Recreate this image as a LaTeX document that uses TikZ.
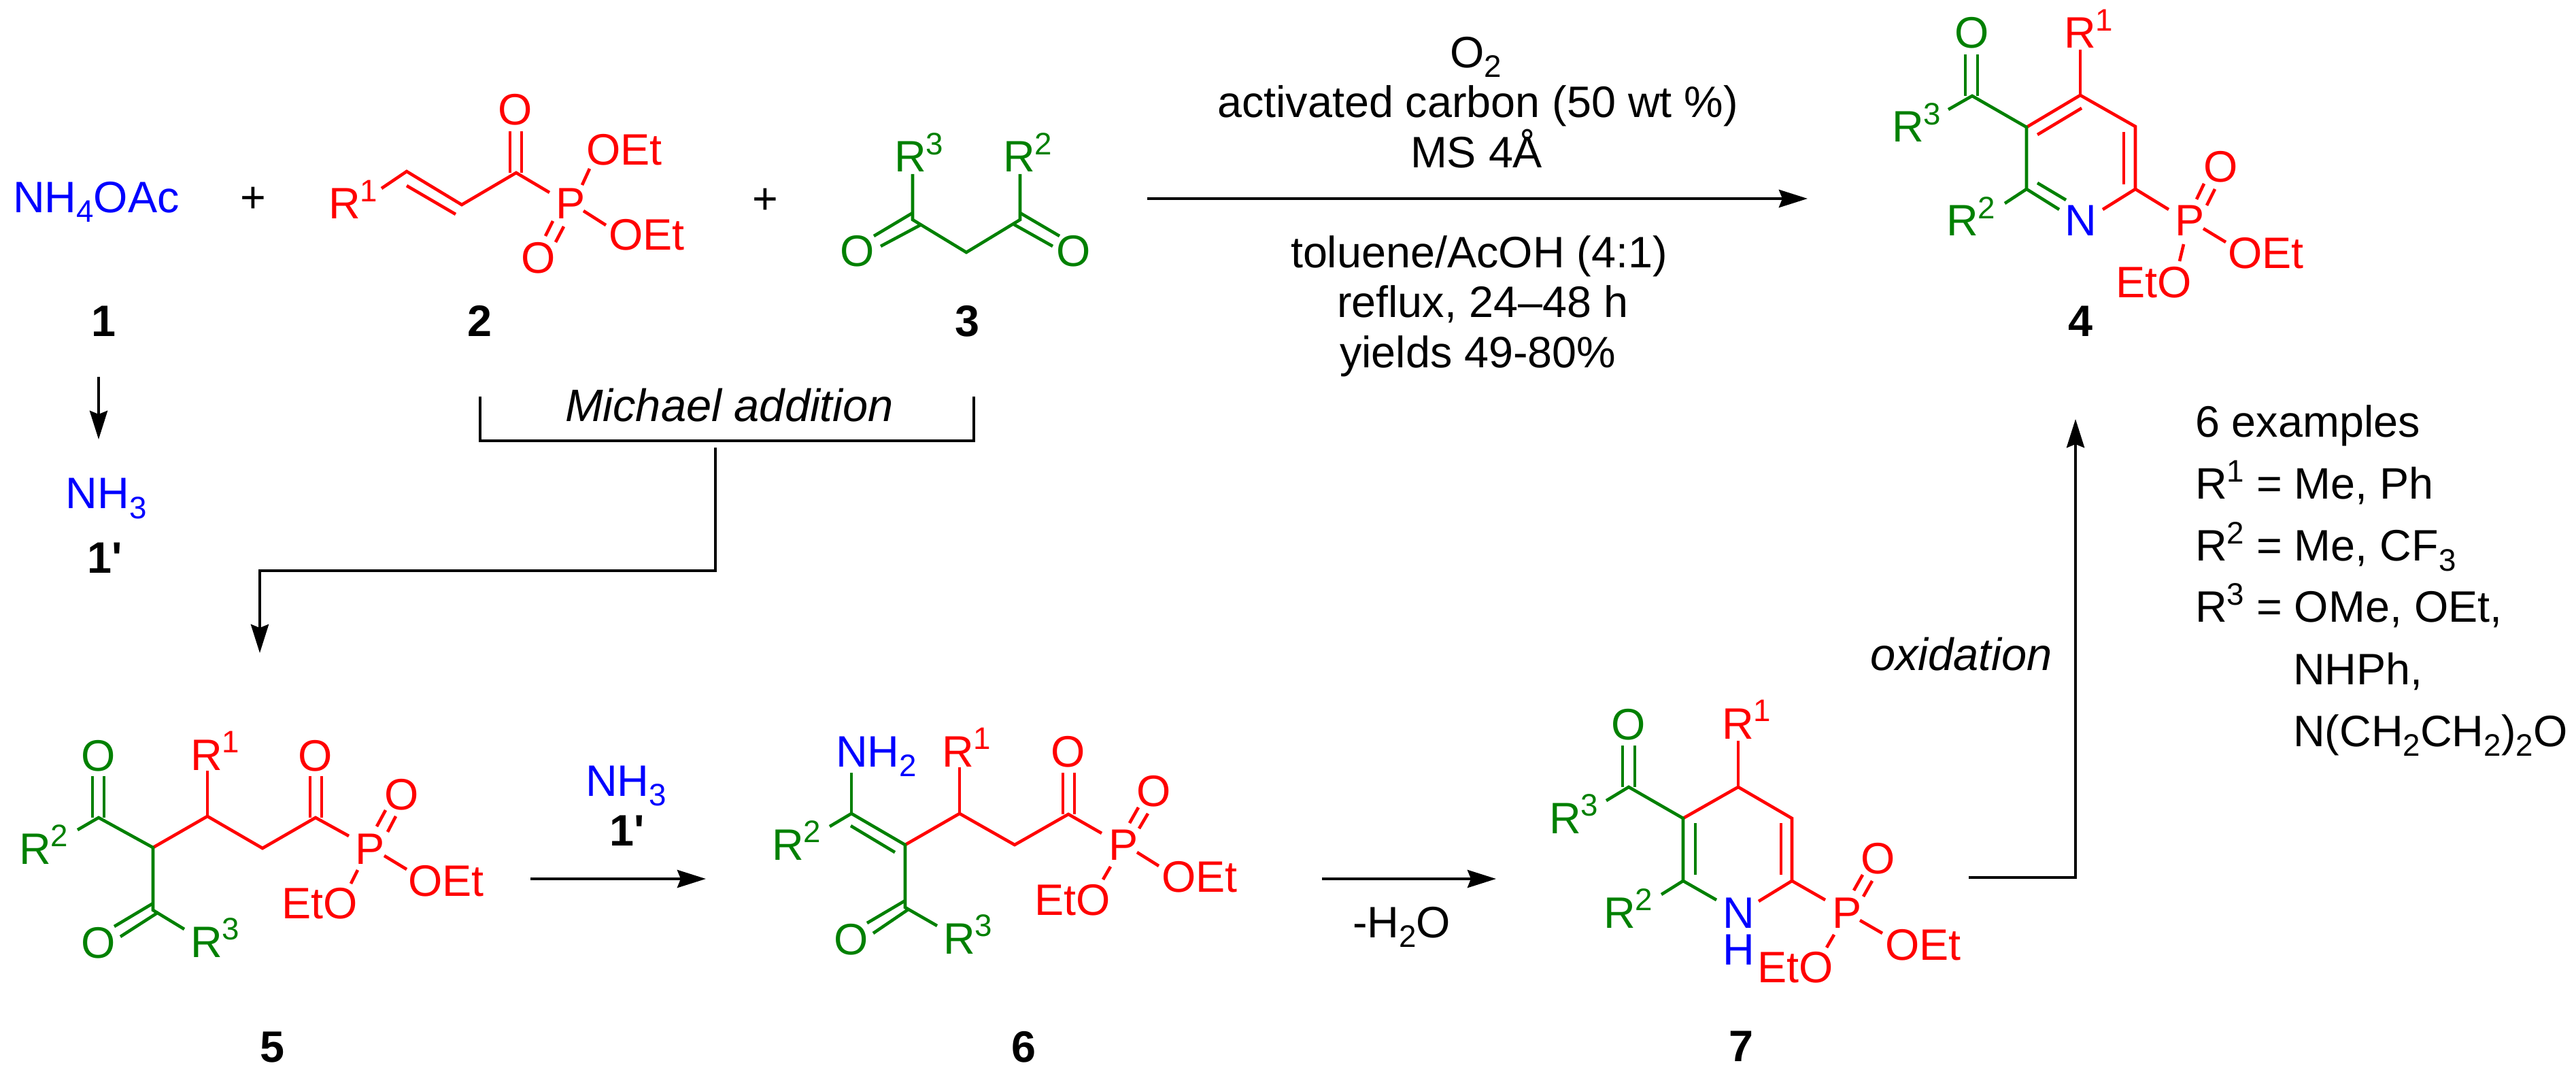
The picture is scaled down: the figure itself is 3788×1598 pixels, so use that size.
\documentclass[tikz,border=0pt]{standalone}
\usepackage{fontspec}
\setmainfont{Liberation Sans}
\usetikzlibrary{arrows.meta}
\definecolor{chemred}{RGB}{255,0,0}
\definecolor{chemgreen}{RGB}{0,128,0}
\definecolor{chemblue}{RGB}{0,0,255}
\newcommand{\supnum}[1]{\raisebox{0.25cm}{\fontsize{13}{13}\selectfont #1}}
\newcommand{\subnum}[1]{\raisebox{-0.14cm}{\fontsize{13}{13}\selectfont #1}}
\tikzset{
	txt/.style={anchor=base west, inner sep=0pt, outer sep=0pt, font=\fontsize{18.4}{20}\selectfont},
	txtred/.style={txt, text=chemred},
	txtgreen/.style={txt, text=chemgreen},
	txtblue/.style={txt, text=chemblue},
	txtital/.style={txt, font=\fontsize{19}{20}\selectfont\itshape},
	cmpd/.style={txt, anchor=base, font=\fontsize{18.4}{20}\selectfont\bfseries},
	bondred/.style={draw=chemred, line width=0.046cm},
	bondgreen/.style={draw=chemgreen, line width=0.046cm},
	plainline/.style={line width=0.046cm},
	rxn/.style={line width=0.046cm, -{Stealth[length=0.42cm,width=0.26cm,inset=0.05cm]}}
}
\begin{document}
\begin{tikzpicture}[x=0.01cm, y=-0.01cm]
	\useasboundingbox (0,0) rectangle (3788,1598);
	% reagents
	\node[txtblue] (nhoac) at (19,313) {NH\subnum{4}OAc};
	\node[cmpd] (lab1) at (152,495) {1};
	\node[txt, anchor=base] (plusa) at (372,313) {+};
	\node[txt, anchor=base] (plusb) at (1125,315) {+};
	% 2
	\node[txtred] (bR) at (483,322) {R\supnum{1}};
	\node[txtred] (bP) at (817,322) {P};
	\node[txtred, anchor=base] (bOa) at (758,184) {O};
	\node[txtred, anchor=base] (bOb) at (792,402) {O};
	\node[txtred] (bOEta) at (862,243) {OEt};
	\node[txtred] (bOEtb) at (895,368) {OEt};
	\node[cmpd] (lab2) at (705,495) {2};
	\coordinate (bR1) at (561,277); \coordinate (b1) at (598,252); \coordinate (b2) at (679,301);
	\coordinate (b3) at (759,254); \coordinate (bP1) at (808,283);
	\coordinate (bd1) at (598,273); \coordinate (bd2) at (670,315);
	\coordinate (bk1) at (750,254); \coordinate (bk2) at (750,193);
	\coordinate (bk3) at (767,254); \coordinate (bk4) at (767,193);
	\coordinate (bq1) at (813,325); \coordinate (bq2) at (802,347);
	\coordinate (bq3) at (829,333); \coordinate (bq4) at (817,356);
	\coordinate (bs1) at (867,248); \coordinate (bs2) at (856,272);
	\coordinate (bs3) at (858,310); \coordinate (bs4) at (891,331);
	\draw[bondred] (bR1) -- (b1) -- (b2) -- (b3) -- (bP1);
	\draw[bondred] (bd1) -- (bd2);
	\draw[bondred] (bk1) -- (bk2);
	\draw[bondred] (bk3) -- (bk4);
	\draw[bondred] (bq1) -- (bq2);
	\draw[bondred] (bq3) -- (bq4);
	\draw[bondred] (bs1) -- (bs2);
	\draw[bondred] (bs3) -- (bs4);
	% 3
	\node[txtgreen] (cRa) at (1315,253) {R\supnum{3}};
	\node[txtgreen] (cRb) at (1475,253) {R\supnum{2}};
	\node[txtgreen, anchor=base] (cOa) at (1261,392) {O};
	\node[txtgreen, anchor=base] (cOb) at (1579,392) {O};
	\node[cmpd] (lab3) at (1422,495) {3};
	\coordinate (cu1) at (1342,256); \coordinate (c1) at (1342,323); \coordinate (c2) at (1421,371);
	\coordinate (c3) at (1500,323); \coordinate (cu2) at (1500,256);
	\coordinate (ck1) at (1342,313); \coordinate (ck2) at (1285,347);
	\coordinate (ck3) at (1355,330); \coordinate (ck4) at (1295,362);
	\coordinate (ck5) at (1500,313); \coordinate (ck6) at (1558,347);
	\coordinate (ck7) at (1491,330); \coordinate (ck8) at (1548,362);
	\draw[bondgreen] (cu1) -- (c1) -- (c2) -- (c3) -- (cu2);
	\draw[bondgreen] (ck1) -- (ck2);
	\draw[bondgreen] (ck3) -- (ck4);
	\draw[bondgreen] (ck5) -- (ck6);
	\draw[bondgreen] (ck7) -- (ck8);
	% main arrow and conditions
	\coordinate (arrAa) at (1687,292); \coordinate (arrAb) at (2658,292);
	\draw[rxn] (arrAa) -- (arrAb);
	\node[txt] (condO) at (2132,100) {O\subnum{2}};
	\node[txt] (condC) at (1790,173) {activated carbon (50 wt \%)};
	\node[txt] (condM) at (2074,247) {MS 4Å};
	\node[txt] (condT) at (1898,394) {toluene/AcOH (4:1)};
	\node[txt] (condR) at (1966,467) {reflux, 24–48 h};
	\node[txt] (condY) at (1970,541) {yields 49-80\%};
	% 4
	\node[txtgreen, anchor=base] (dO) at (2900,71) {O};
	\node[txtred] (dRa) at (3035,71) {R\supnum{1}};
	\node[txtgreen] (dRc) at (2782,209) {R\supnum{3}};
	\node[txtgreen] (dRb) at (2862,347) {R\supnum{2}};
	\node[txtblue] (dN) at (3036,347) {N};
	\node[txtred] (dP) at (3198,347) {P};
	\node[txtred, anchor=base] (dOb) at (3266,268) {O};
	\node[txtred] (dOEt) at (3276,395) {OEt};
	\node[txtred] (dEtO) at (3111,438) {EtO};
	\node[cmpd] (lab4) at (3059,495) {4};
	\coordinate (d1) at (2900,141); \coordinate (dr3) at (2865,161);
	\coordinate (d2) at (2980,187); \coordinate (d3) at (3059,140); \coordinate (d4) at (3140,186);
	\coordinate (d5) at (3140,278); \coordinate (d6) at (2980,278);
	\coordinate (dr1) at (3059,73); \coordinate (dr2) at (2948,299);
	\coordinate (dn1) at (3028,308); \coordinate (dn2) at (3092,308); \coordinate (dp1) at (3189,308);
	\coordinate (dk1) at (2890,80); \coordinate (dk2) at (2890,141);
	\coordinate (dk3) at (2908,80); \coordinate (dk4) at (2908,141);
	\coordinate (di1) at (3061,159); \coordinate (di2) at (2996,198);
	\coordinate (di3) at (3123,194); \coordinate (di4) at (3123,271);
	\coordinate (di5) at (2996,269); \coordinate (di6) at (3038,294);
	\coordinate (dq1) at (3241,270); \coordinate (dq2) at (3230,293);
	\coordinate (dq3) at (3257,278); \coordinate (dq4) at (3245,302);
	\coordinate (ds1) at (3240,336); \coordinate (ds2) at (3273,356);
	\coordinate (ds3) at (3211,359); \coordinate (ds4) at (3205,384);
	\draw[bondred] (d2) -- (d3) -- (d4) -- (d5) -- (dn2);
	\draw[bondred] (dr1) -- (d3);
	\draw[bondred] (d5) -- (dp1);
	\draw[bondred] (di1) -- (di2);
	\draw[bondred] (di3) -- (di4);
	\draw[bondred] (dq1) -- (dq2);
	\draw[bondred] (dq3) -- (dq4);
	\draw[bondred] (ds1) -- (ds2);
	\draw[bondred] (ds3) -- (ds4);
	\draw[bondgreen] (dr3) -- (d1) -- (d2) -- (d6) -- (dn1);
	\draw[bondgreen] (d6) -- (dr2);
	\draw[bondgreen] (dk1) -- (dk2);
	\draw[bondgreen] (dk3) -- (dk4);
	\draw[bondgreen] (di5) -- (di6);
	% 1'
	\coordinate (arrBa) at (145,554); \coordinate (arrBb) at (145,646);
	\draw[rxn] (arrBa) -- (arrBb);
	\node[txtblue] (nhtri) at (97,748) {NH\subnum{3}};
	\node[cmpd] (lab1p) at (154,843) {1\textquotesingle};
	% Michael addition
	\coordinate (brA) at (706,583); \coordinate (brB) at (706,648);
	\coordinate (brC) at (1432,648); \coordinate (brD) at (1432,583);
	\coordinate (elA) at (1052,658); \coordinate (elB) at (1052,839);
	\coordinate (elC) at (382,839); \coordinate (elD) at (382,960);
	\draw[plainline] (brA) -- (brB) -- (brC) -- (brD);
	\draw[rxn] (elA) -- (elB) -- (elC) -- (elD);
	\node[txtital] (michael) at (831,620) {Michael addition};
	% 5
	\node[txtgreen] (eRb) at (28,1270) {R\supnum{2}};
	\node[txtgreen, anchor=base] (eOa) at (145,1133) {O};
	\node[txtgreen, anchor=base] (eOb) at (145,1408) {O};
	\node[txtgreen] (eRc) at (280,1407) {R\supnum{3}};
	\node[txtred] (eRa) at (280,1132) {R\supnum{1}};
	\node[txtred, anchor=base] (eOc) at (464,1133) {O};
	\node[txtred] (eP) at (522,1270) {P};
	\node[txtred, anchor=base] (eOd) at (591,1190) {O};
	\node[txtred] (eOEt) at (600,1317) {OEt};
	\node[txtred] (eEtO) at (414,1350) {EtO};
	\node[cmpd] (lab5) at (400,1561) {5};
	\coordinate (e1) at (145,1202); \coordinate (er2) at (114,1220); \coordinate (e2) at (225,1246);
	\coordinate (e3) at (225,1338); \coordinate (er3) at (271,1366);
	\coordinate (e4) at (305,1200); \coordinate (er1) at (305,1133); \coordinate (e5) at (386,1247);
	\coordinate (e6) at (464,1202); \coordinate (ep1) at (513,1229);
	\coordinate (ek1) at (136,1141); \coordinate (ek2) at (136,1202);
	\coordinate (ek3) at (153,1141); \coordinate (ek4) at (153,1202);
	\coordinate (ek5) at (225,1328); \coordinate (ek6) at (168,1362);
	\coordinate (ek7) at (233,1341); \coordinate (ek8) at (177,1377);
	\coordinate (ek9) at (456,1141); \coordinate (ek10) at (456,1202);
	\coordinate (ek11) at (473,1141); \coordinate (ek12) at (473,1202);
	\coordinate (eq1) at (567,1191); \coordinate (eq2) at (554,1215);
	\coordinate (eq3) at (582,1200); \coordinate (eq4) at (570,1223);
	\coordinate (es1) at (565,1258); \coordinate (es2) at (598,1278);
	\coordinate (es3) at (526,1279); \coordinate (es4) at (516,1299);
	\draw[bondred] (e2) -- (e4) -- (e5) -- (e6) -- (ep1);
	\draw[bondred] (er1) -- (e4);
	\draw[bondred] (ek9) -- (ek10);
	\draw[bondred] (ek11) -- (ek12);
	\draw[bondred] (eq1) -- (eq2);
	\draw[bondred] (eq3) -- (eq4);
	\draw[bondred] (es1) -- (es2);
	\draw[bondred] (es3) -- (es4);
	\draw[bondgreen] (er2) -- (e1) -- (e2) -- (e3) -- (er3);
	\draw[bondgreen] (ek1) -- (ek2);
	\draw[bondgreen] (ek3) -- (ek4);
	\draw[bondgreen] (ek5) -- (ek6);
	\draw[bondgreen] (ek7) -- (ek8);
	% 5 to 6
	\coordinate (arrCa) at (780,1292); \coordinate (arrCb) at (1038,1292);
	\draw[rxn] (arrCa) -- (arrCb);
	\node[txtblue] (nhtrib) at (861,1170) {NH\subnum{3}};
	\node[cmpd] (lab1q) at (922,1243) {1\textquotesingle};
	% 6
	\node[txtgreen] (fRb) at (1135,1264) {R\supnum{2}};
	\node[txtblue] (fNH) at (1229,1127) {NH\subnum{2}};
	\node[txtred] (fRa) at (1385,1127) {R\supnum{1}};
	\node[txtred, anchor=base] (fOc) at (1571,1127) {O};
	\node[txtred] (fP) at (1630,1264) {P};
	\node[txtred, anchor=base] (fOd) at (1697,1185) {O};
	\node[txtred] (fOEt) at (1708,1311) {OEt};
	\node[txtred] (fEtO) at (1521,1345) {EtO};
	\node[txtgreen, anchor=base] (fOb) at (1252,1403) {O};
	\node[txtgreen] (fRc) at (1387,1402) {R\supnum{3}};
	\node[cmpd] (lab6) at (1505,1561) {6};
	\coordinate (f1) at (1252,1196); \coordinate (fn1) at (1252,1136); \coordinate (fr2) at (1220,1215);
	\coordinate (f2) at (1331,1242); \coordinate (f3) at (1331,1334); \coordinate (fr3) at (1378,1361);
	\coordinate (f4) at (1411,1196); \coordinate (fr1) at (1411,1128); \coordinate (f5) at (1492,1242);
	\coordinate (f6) at (1571,1197); \coordinate (fp1) at (1620,1225);
	\coordinate (fd1) at (1251,1214); \coordinate (fd2) at (1316,1253);
	\coordinate (fk1) at (1331,1324); \coordinate (fk2) at (1275,1357);
	\coordinate (fk3) at (1337,1336); \coordinate (fk4) at (1284,1372);
	\coordinate (fk5) at (1563,1136); \coordinate (fk6) at (1563,1197);
	\coordinate (fk7) at (1580,1136); \coordinate (fk8) at (1580,1197);
	\coordinate (fq1) at (1674,1187); \coordinate (fq2) at (1661,1210);
	\coordinate (fq3) at (1688,1196); \coordinate (fq4) at (1675,1218);
	\coordinate (fs1) at (1672,1253); \coordinate (fs2) at (1704,1273);
	\coordinate (fs3) at (1633,1274); \coordinate (fs4) at (1622,1293);
	\draw[bondred] (f2) -- (f4) -- (f5) -- (f6) -- (fp1);
	\draw[bondred] (fr1) -- (f4);
	\draw[bondred] (fk5) -- (fk6);
	\draw[bondred] (fk7) -- (fk8);
	\draw[bondred] (fq1) -- (fq2);
	\draw[bondred] (fq3) -- (fq4);
	\draw[bondred] (fs1) -- (fs2);
	\draw[bondred] (fs3) -- (fs4);
	\draw[bondgreen] (fr2) -- (f1) -- (f2) -- (f3) -- (fr3);
	\draw[bondgreen] (fn1) -- (f1);
	\draw[bondgreen] (fd1) -- (fd2);
	\draw[bondgreen] (fk1) -- (fk2);
	\draw[bondgreen] (fk3) -- (fk4);
	% 6 to 7
	\coordinate (arrDa) at (1944,1292); \coordinate (arrDb) at (2200,1292);
	\draw[rxn] (arrDa) -- (arrDb);
	\node[txt] (minush) at (1989,1378) {-H\subnum{2}O};
	% 7
	\node[txtgreen] (gRc) at (2278,1225) {R\supnum{3}};
	\node[txtgreen] (gRb) at (2358,1364) {R\supnum{2}};
	\node[txtgreen, anchor=base] (gO) at (2395,1087) {O};
	\node[txtred] (gRa) at (2532,1086) {R\supnum{1}};
	\node[txtblue] (gN) at (2533,1364) {N};
	\node[txtblue] (gH) at (2533,1418) {H};
	\node[txtred] (gP) at (2694,1364) {P};
	\node[txtred, anchor=base] (gOb) at (2762,1284) {O};
	\node[txtred] (gOEt) at (2772,1411) {OEt};
	\node[txtred] (gEtO) at (2584,1444) {EtO};
	\node[cmpd] (lab7) at (2560,1560) {7};
	\coordinate (g1) at (2395,1157); \coordinate (gr3) at (2362,1177);
	\coordinate (g2) at (2475,1203); \coordinate (g3) at (2556,1157); \coordinate (g4) at (2635,1203);
	\coordinate (g5) at (2635,1295); \coordinate (g6) at (2475,1295);
	\coordinate (gr1) at (2556,1089); \coordinate (gr2) at (2443,1315);
	\coordinate (gn1) at (2524,1323); \coordinate (gn2) at (2586,1325); \coordinate (gp1) at (2684,1323);
	\coordinate (gk1) at (2386,1096); \coordinate (gk2) at (2386,1157);
	\coordinate (gk3) at (2404,1096); \coordinate (gk4) at (2404,1157);
	\coordinate (gi1) at (2493,1210); \coordinate (gi2) at (2493,1286);
	\coordinate (gi3) at (2619,1210); \coordinate (gi4) at (2619,1286);
	\coordinate (gq1) at (2739,1286); \coordinate (gq2) at (2726,1309);
	\coordinate (gq3) at (2753,1295); \coordinate (gq4) at (2740,1318);
	\coordinate (gs1) at (2735,1353); \coordinate (gs2) at (2768,1372);
	\coordinate (gs3) at (2697,1374); \coordinate (gs4) at (2686,1393);
	\draw[bondred] (g2) -- (g3) -- (g4) -- (g5) -- (gn2);
	\draw[bondred] (gr1) -- (g3);
	\draw[bondred] (g5) -- (gp1);
	\draw[bondred] (gi3) -- (gi4);
	\draw[bondred] (gq1) -- (gq2);
	\draw[bondred] (gq3) -- (gq4);
	\draw[bondred] (gs1) -- (gs2);
	\draw[bondred] (gs3) -- (gs4);
	\draw[bondgreen] (gr3) -- (g1) -- (g2) -- (g6) -- (gn1);
	\draw[bondgreen] (g6) -- (gr2);
	\draw[bondgreen] (gk1) -- (gk2);
	\draw[bondgreen] (gk3) -- (gk4);
	\draw[bondgreen] (gi1) -- (gi2);
	% 7 to 4
	\coordinate (arrEa) at (2895,1290); \coordinate (arrEb) at (3052,1290); \coordinate (arrEc) at (3052,616);
	\draw[rxn] (arrEa) -- (arrEb) -- (arrEc);
	\node[txtital] (oxid) at (2750,985) {oxidation};
	% scope of the reaction
	\node[txt] (exa) at (3228,643) {6 examples};
	\node[txt] (exb) at (3228,734) {R\supnum{1} = Me, Ph};
	\node[txt] (exc) at (3228,825) {R\supnum{2} = Me, CF\subnum{3}};
	\node[txt] (exd) at (3228,915) {R\supnum{3} = OMe, OEt,};
	\node[txt] (exe) at (3372,1006) {NHPh,};
	\node[txt] (exf) at (3372,1097) {N(CH\subnum{2}CH\subnum{2})\subnum{2}O};
\end{tikzpicture}
\end{document}
